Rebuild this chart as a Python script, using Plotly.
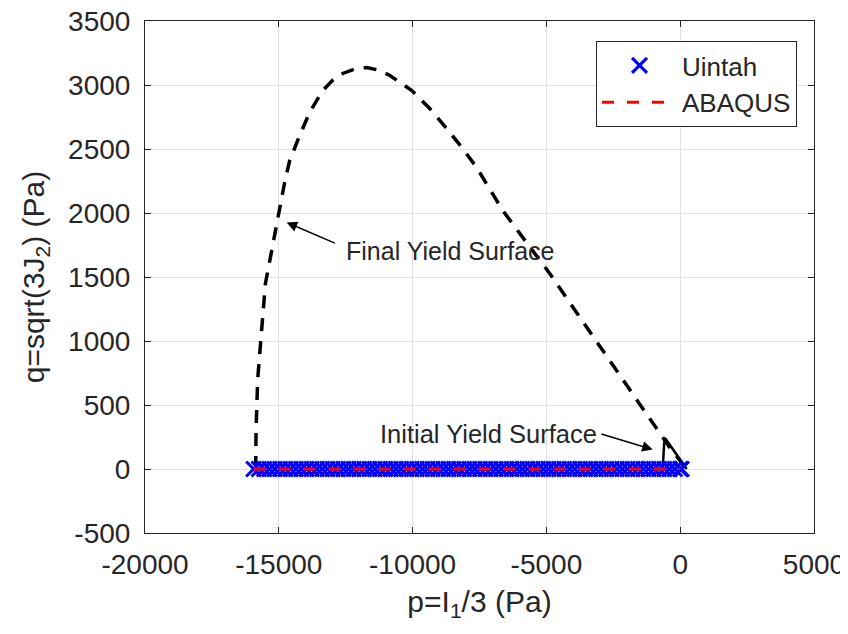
import plotly.graph_objects as go

# ---- data ----
p_uintah = [-15940, -15740, -15545, -15350, -15150, -14950, -14760, -14560, -14360, -14165,
            -13970, -13770, -13575, -13380, -13180, -12985, -12790, -12590, -12395, -12200,
            -12000, -11805, -11610, -11410, -11215, -11020, -10820, -10625, -10430, -10230,
            -10035, -9840, -9640, -9445, -9250, -9050, -8855, -8660, -8460, -8265,
            -8070, -7870, -7675, -7480, -7280, -7085, -6890, -6690, -6495, -6300,
            -6100, -5905, -5710, -5510, -5315, -5120, -4920, -4725, -4530, -4330,
            -4135, -3940, -3740, -3545, -3350, -3150, -2955, -2760, -2560, -2365,
            -2170, -1970, -1775, -1580, -1380, -1185, -990, -790, -595, -400,
            -200, 0, 50]
q_uintah = [0.0] * len(p_uintah)

p_abaqus = [-15940, -12000, -8000, -4000, 0]
q_abaqus = [0, 0, 0, 0, 0]

p_final = [-15865, -15850, -15790, -15650, -15500, -15265, -14967, -14780, -14593, -14400,
           -14220, -13850, -13360, -13000, -12610, -12150, -11715, -11250, -10850, -10030,
           -9360, -8726, -8128, -7605, -6633, -4877, -3000, -1513, -1028, -400, 240]
q_final = [0, 300, 700, 1100, 1450, 1707, 2043, 2240, 2410, 2515,
           2605, 2785, 2957, 3035, 3090, 3125, 3137, 3115, 3074, 2957,
           2816, 2660, 2504, 2355, 2020, 1527, 960, 512, 356, 170, 0]

p_initial = [-654, -630, -600, -560, 240]
q_initial = [0, 120, 200, 240, 0]

x_ticks = [-20000, -15000, -10000, -5000, 0, 5000]
y_ticks = [-500, 0, 500, 1000, 1500, 2000, 2500, 3000, 3500]

FONT = "Liberation Sans, Arial, Helvetica, sans-serif"
TXT = "#262626"

fig = go.Figure()

fig.add_trace(go.Scatter(
    x=p_final, y=q_final, mode="lines", showlegend=False,
    line=dict(color="black", width=3.5, dash="13px,10px"),
))
fig.add_trace(go.Scatter(
    x=p_initial, y=q_initial, mode="lines", showlegend=False,
    line=dict(color="black", width=2.5),
))
fig.add_trace(go.Scatter(
    x=p_uintah, y=q_uintah, mode="markers", name="Uintah",
    marker=dict(symbol="x-thin", size=15, color="#0000ff",
                line=dict(color="#0000ff", width=3)),
))
fig.add_trace(go.Scatter(
    x=p_abaqus, y=q_abaqus, mode="lines", name="ABAQUS",
    line=dict(color="#ff0000", width=3, dash="12px,13px"),
))

# annotations
fig.add_annotation(x=-12546, y=1707, text="Final Yield Surface", showarrow=False,
                   xanchor="left", yanchor="middle",
                   font=dict(family=FONT, size=25, color=TXT))
fig.add_annotation(x=-14705, y=1926, ax=-12850, ay=1760, axref="x", ayref="y",
                   text="", showarrow=True, arrowhead=2, arrowsize=1.4,
                   arrowwidth=1.5, arrowcolor="black")
fig.add_annotation(x=-3050, y=277, text="Initial Yield Surface", showarrow=False,
                   xanchor="right", yanchor="middle",
                   font=dict(family=FONT, size=25.5, color=TXT))
fig.add_annotation(x=-1028, y=152, ax=-3000, ay=277, axref="x", ayref="y",
                   text="", showarrow=True, arrowhead=2, arrowsize=1.4,
                   arrowwidth=1.5, arrowcolor="black")

axis_common = dict(
    showgrid=True, gridcolor="#e0e0e0", gridwidth=1,
    showline=True, linecolor=TXT, linewidth=1, mirror="ticks",
    ticks="inside", ticklen=6, tickcolor=TXT, tickwidth=1,
    zeroline=False, automargin=False, ticklabeloverflow="allow",
    tickfont=dict(family=FONT, size=28, color=TXT),
)

fig.update_xaxes(
    range=[-20000, 5000], tickvals=x_ticks, ticktext=[str(v) for v in x_ticks],
    ticklabelstandoff=6,
    title=dict(text="p=I<sub>1</sub>/3 (Pa)", font=dict(family=FONT, size=30, color=TXT),
               standoff=12),
    **axis_common,
)
fig.update_yaxes(
    range=[-500, 3500], tickvals=y_ticks, ticktext=[str(v) for v in y_ticks],
    ticklabelstandoff=8,
    title=dict(text="q=sqrt(3J<sub>2</sub>) (Pa)", font=dict(family=FONT, size=30, color=TXT),
               standoff=14),
    **axis_common,
)

# page body adds an 8px offset; figure is sized so the plot box lands at x 145-814, y 21-533
fig.update_layout(
    width=840, height=626,
    margin=dict(l=137, r=34, t=13, b=101),
    plot_bgcolor="white", paper_bgcolor="white",
    legend=dict(x=0.9746, y=0.961, xanchor="right", yanchor="top",
                bgcolor="white", bordercolor=TXT, borderwidth=1,
                font=dict(family=FONT, size=26, color=TXT),
                itemwidth=75, tracegroupgap=0),
)

fig.write_html("out.html")
